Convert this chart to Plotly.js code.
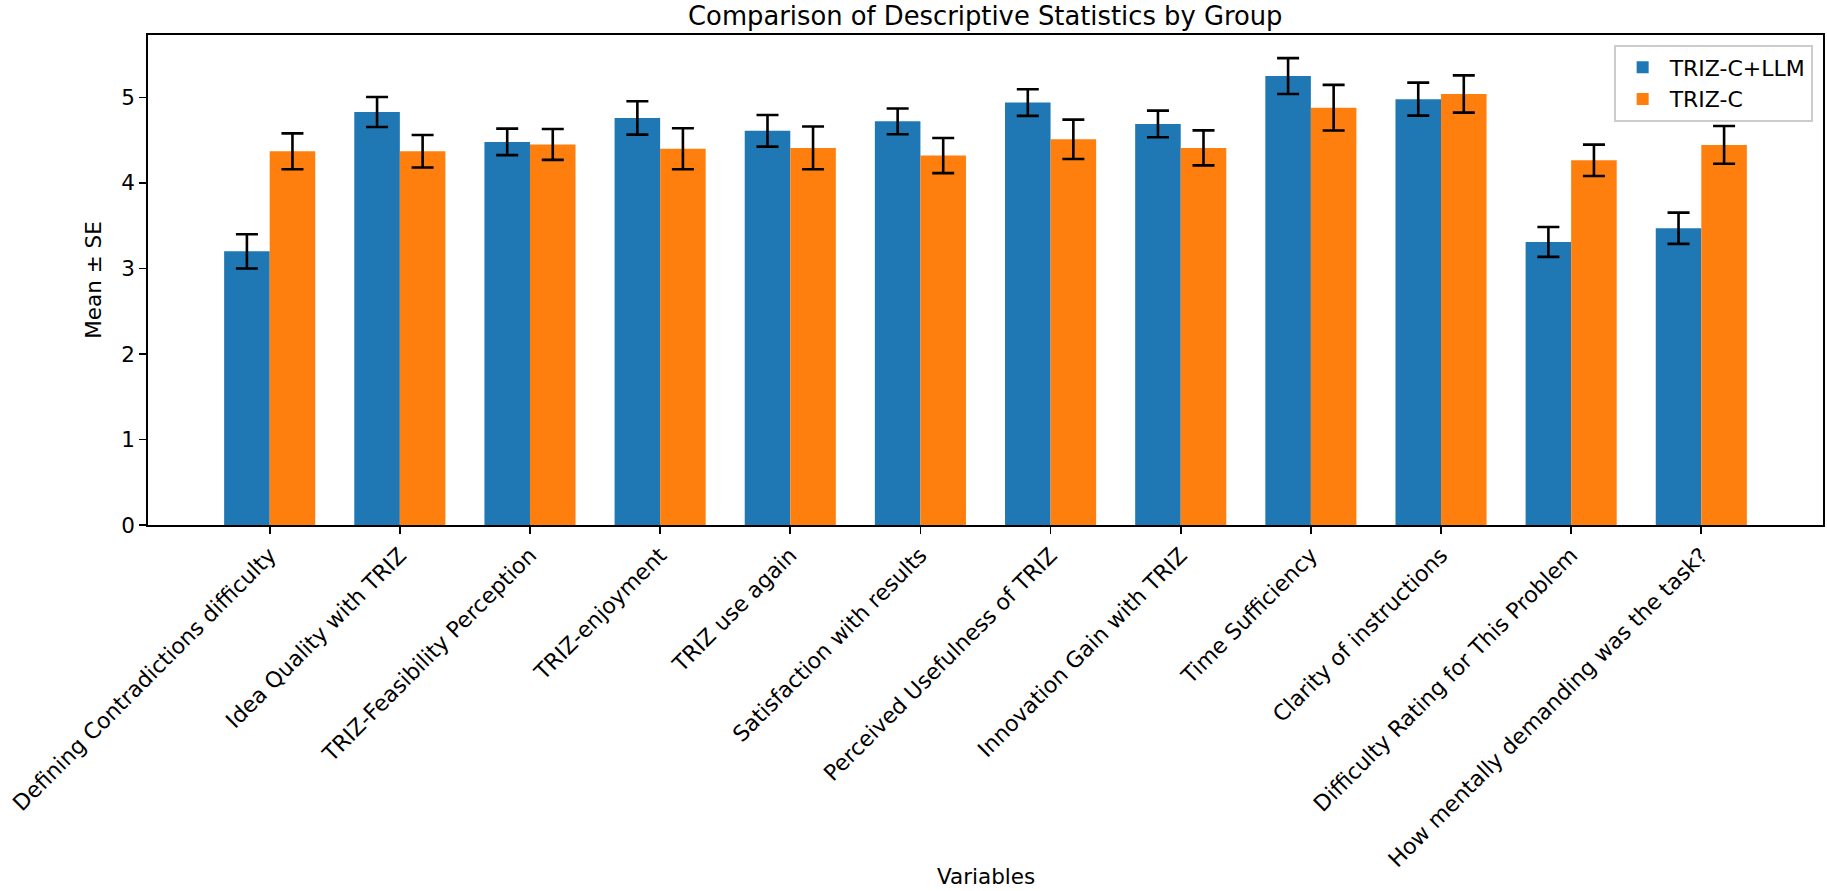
<!DOCTYPE html>
<html>
<head>
<meta charset="utf-8">
<script src="https://cdn.plot.ly/plotly-3.0.1.min.js"></script>
<style>
  html, body { margin: 0; padding: 0; background: #ffffff; }
  #chart { width: 1827px; height: 891px; }
</style>
</head>
<body>
<div id="chart"></div>
<script>
// Survey items (x categories)
const variables = [
  "Defining Contradictions difficulty",
  "Idea Quality with TRIZ",
  "TRIZ-Feasibility Perception",
  "TRIZ-enjoyment",
  "TRIZ use again",
  "Satisfaction with results",
  "Perceived Usefulness of TRIZ",
  "Innovation Gain with TRIZ",
  "Time Sufficiency",
  "Clarity of instructions",
  "Difficulty Rating for This Problem",
  "How mentally demanding was the task?"
];

// Group means and standard errors
const llmMean = [3.20, 4.83, 4.48, 4.76, 4.61, 4.72, 4.94, 4.69, 5.25, 4.98, 3.31, 3.47];
const llmSE   = [0.20, 0.175, 0.155, 0.195, 0.185, 0.15, 0.156, 0.156, 0.21, 0.193, 0.175, 0.183];
const ctrlMean = [4.37, 4.37, 4.45, 4.40, 4.41, 4.32, 4.51, 4.41, 4.88, 5.04, 4.265, 4.445];
const ctrlSE   = [0.21, 0.19, 0.18, 0.24, 0.25, 0.205, 0.23, 0.205, 0.267, 0.218, 0.183, 0.22];

const yTicks = [0, 1, 2, 3, 4, 5];

const FONT = "DejaVu Sans, Verdana, sans-serif";

function errorSpec(se) {
  return { type: "data", array: se, visible: true, color: "#000000", thickness: 2.6, width: 11 };
}

const traces = [
  {
    type: "bar", name: "TRIZ-C+LLM", x: variables, y: llmMean,
    marker: { color: "#1f77b4" }, error_y: errorSpec(llmSE), hoverinfo: "skip"
  },
  {
    type: "bar", name: "TRIZ-C", x: variables, y: ctrlMean,
    marker: { color: "#ff7f0e" }, error_y: errorSpec(ctrlSE), hoverinfo: "skip"
  }
];

const n = variables.length;
const layout = {
  width: 1827, height: 891,
  margin: { l: 148, r: 4, t: 35, b: 366, pad: 0 },
  paper_bgcolor: "#ffffff", plot_bgcolor: "#ffffff",
  font: { family: FONT, size: 21.5, color: "#000000" },
  barmode: "group", bargap: 0.3, bargroupgap: 0,
  showlegend: true,
  title: {
    text: "Comparison of Descriptive Statistics by Group",
    font: { family: FONT, size: 25.8, color: "#000000" },
    x: 0.5393, xanchor: "center", xref: "container",
    y: 0.982, yanchor: "middle", yref: "container"
  },
  xaxis: {
    type: "category",
    range: [-0.935, n - 1 + 0.935],
    tickangle: -45,
    ticks: "outside", ticklen: 7, tickwidth: 1.7, tickcolor: "#000000",
    showline: true, linecolor: "#000000", linewidth: 1.7, mirror: true,
    showgrid: false, zeroline: false, automargin: false,
    tickfont: { family: FONT, size: 22, color: "#000000" }
  },
  yaxis: {
    range: [0, 5.73],
    tickmode: "array", tickvals: yTicks, ticktext: yTicks.map(String),
    ticks: "outside", ticklen: 7, tickwidth: 1.7, tickcolor: "#000000",
    showline: true, linecolor: "#000000", linewidth: 1.7, mirror: true,
    showgrid: false, zeroline: false, automargin: false,
    tickfont: { family: FONT, size: 21.5, color: "#000000" },
    title: { text: "Mean ± SE", font: { family: FONT, size: 21.5, color: "#000000" }, standoff: 14 }
  },
  // x-axis caption sits low, below the slanted category labels
  annotations: [
    {
      text: "Variables", xref: "paper", yref: "paper",
      x: 0.5, y: -0.718, xanchor: "center", yanchor: "middle",
      showarrow: false, font: { family: FONT, size: 21.5, color: "#000000" }
    }
  ],
  legend: {
    x: 0.994, xanchor: "right", y: 0.98, yanchor: "top",
    bgcolor: "#ffffff", bordercolor: "#cccccc", borderwidth: 1.7,
    font: { family: FONT, size: 22, color: "#000000" },
    itemwidth: 44
  }
};

Plotly.newPlot("chart", traces, layout, { staticPlot: true, displayModeBar: false });
</script>
</body>
</html>
